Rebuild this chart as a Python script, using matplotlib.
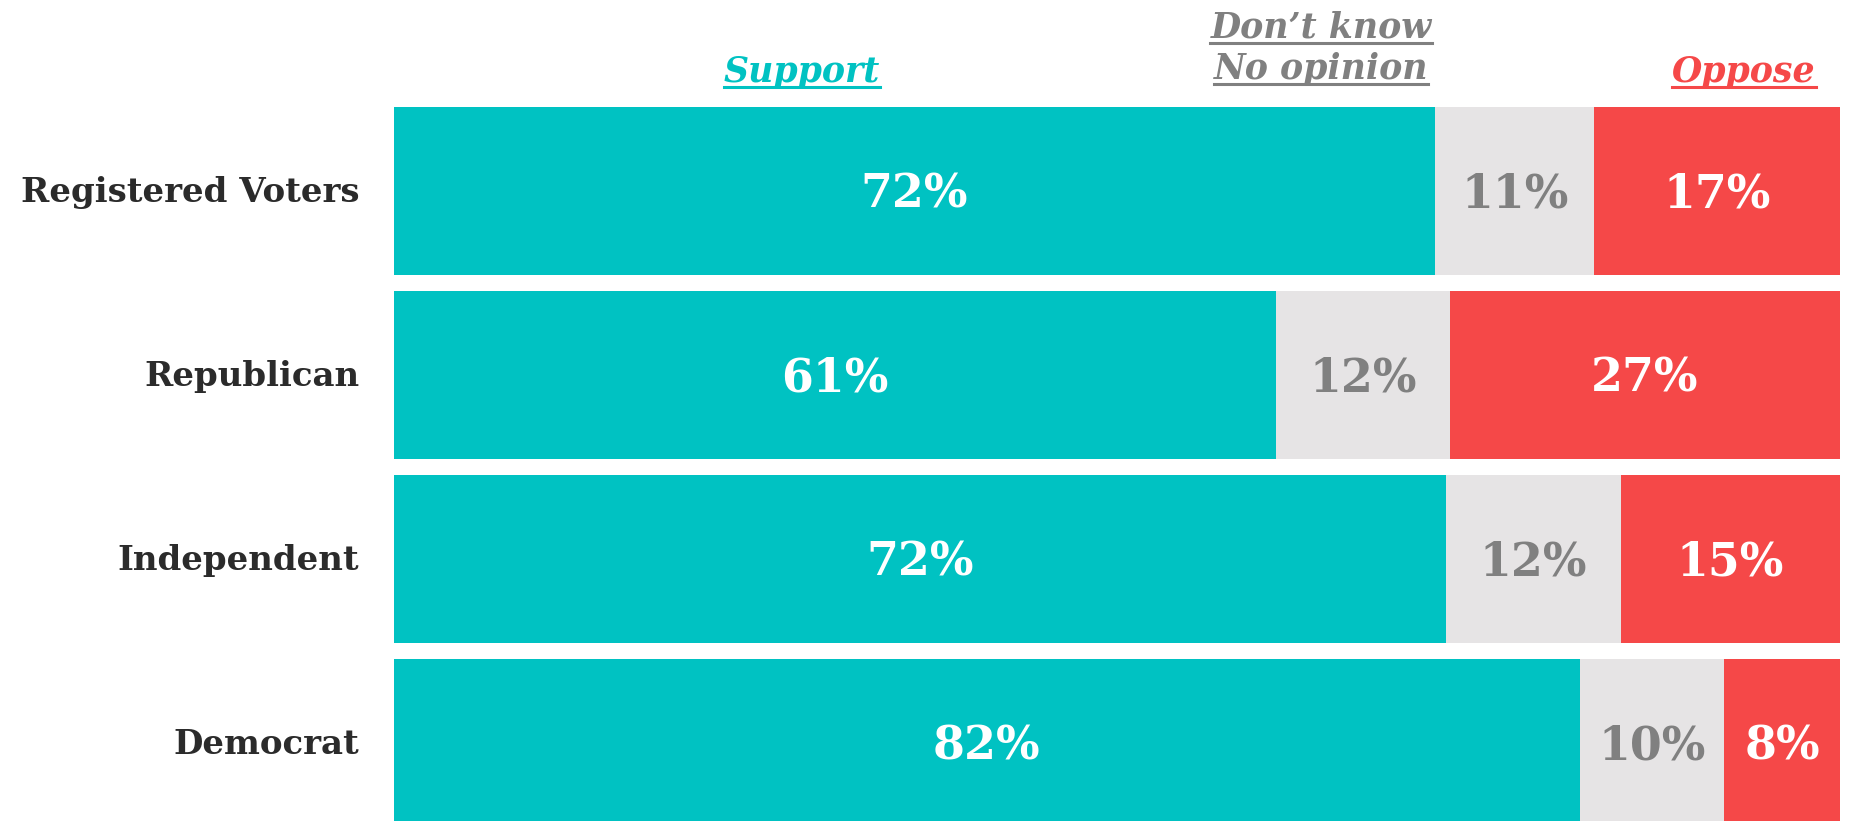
import numpy as np
import matplotlib.pyplot as plt
from matplotlib.lines import Line2D

groups = ["Registered Voters", "Republican", "Independent", "Democrat"]
support = [72, 61, 72, 82]
dont_know = [11, 12, 12, 10]
oppose = [17, 27, 15, 8]

teal = "#00C2C2"
grey = "#E6E4E5"
red = "#F54848"
txt_grey = "#808080"
dark = "#2b2b2b"

plt.rcParams["font.family"] = ["DejaVu Serif"]

W, H = 1850, 821
fig = plt.figure(figsize=(W / 100, H / 100), dpi=100)
ax = fig.add_axes([394 / W, 0, (1840 - 394) / W, 1 - 107 / H])

s = np.array(support, float)
d = np.array(dont_know, float)
o = np.array(oppose, float)
tot = s + d + o
# bars are scaled so each row fills the full width
sw, dw, ow = s / tot * 100, d / tot * 100, o / tot * 100

y = np.arange(len(groups))
h = 0.91
ax.barh(y, sw, height=h, color=teal)
ax.barh(y, dw, left=sw, height=h, color=grey)
ax.barh(y, ow, left=sw + dw, height=h, color=red)

ax.set_xlim(0, 100)
ax.set_ylim(3.424, -0.455)
ax.axis("off")

for i in range(len(groups)):
    ax.text(sw[i] / 2, y[i] + 0.02, f"{support[i]}%", ha="center", va="center",
            color="white", fontsize=33, fontweight="bold")
    ax.text(sw[i] + dw[i] / 2, y[i] + 0.02, f"{dont_know[i]}%", ha="center", va="center",
            color=txt_grey, fontsize=33, fontweight="bold")
    ax.text(sw[i] + dw[i] + ow[i] / 2, y[i] + 0.02, f"{oppose[i]}%", ha="center", va="center",
            color="white", fontsize=33, fontweight="bold")
    ax.text(-0.024, y[i] + 0.01, groups[i], transform=ax.get_yaxis_transform(),
            ha="right", va="center", color=dark, fontsize=24.5, fontweight="bold")

# column headers (underlined)
heads = [
    ("Support", 802, 82, teal),
    ("Don\u2019t know", 1321, 38, txt_grey),
    ("No opinion", 1321, 79, txt_grey),
    ("Oppose", 1744, 82, red),
]
htexts = []
for label, x, yb, col in heads:
    t = fig.text(x / W, 1 - yb / H, label, ha="center", va="baseline", color=col,
                 fontsize=25, fontweight="bold", style="italic")
    htexts.append((t, yb, col))

fig.canvas.draw()
r = fig.canvas.get_renderer()
for t, yb, col in htexts:
    bb = t.get_window_extent(r)
    yl = 1 - (yb + 5) / H
    fig.add_artist(Line2D([bb.x0 / W, bb.x1 / W], [yl, yl], color=col, lw=2.2,
                          transform=fig.transFigure))

fig.savefig("out.png", dpi=100)
